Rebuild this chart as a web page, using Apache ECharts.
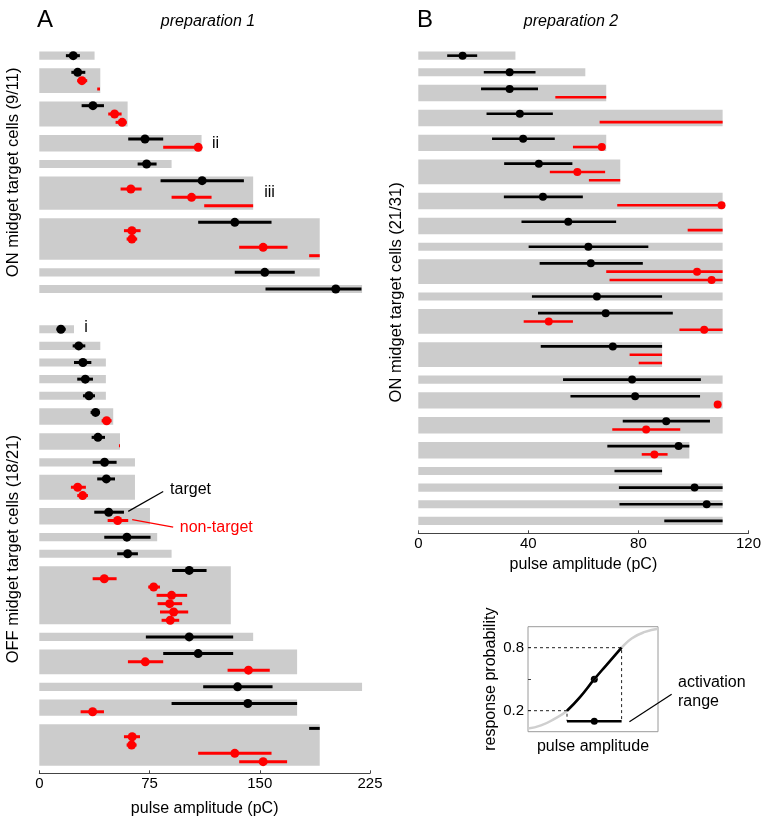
<!DOCTYPE html>
<html>
<head>
<meta charset="utf-8">
<script src="https://cdn.jsdelivr.net/npm/echarts@6/dist/echarts.min.js"></script>
<style>
  html, body { margin: 0; padding: 0; background: #fff; }
  #chart { width: 764px; height: 823px; }
</style>
</head>
<body>
<div id="chart"></div>
<script>
// rows are stimulus rows from the top; blocks = [firstRow, lastRow, tested max pC]
// ranges = [row, low, high, midpoint] (midpoint null when no dot)

// panel A, ON midget (9/11)
const onA_blocks = [[0,0,37.6],[2,4,41.5],[6,8,60.1],[10,11,110.4],[13,13,90.0],[15,18,145.5],[20,24,190.8],[26,26,190.8],[28,28,219.6]]
const onA_target = [[0,18.1,27.6,23.1],[2,21.8,31.3,26.1],[6,28.8,44.0,36.5],[10,60.5,84.3,71.9],[13,66.9,79.8,73.0],
  [15,82.5,139.2,110.8],[20,108.1,158.0,133.0],[26,133.0,173.8,153.4],[28,153.9,219.2,201.7]]
const onA_nontarget = [[3,25.8,32.6,29.0],[4,39.4,41.3,null],[7,46.9,56.0,51.2],[8,51.9,59.4,56.4],[11,84.3,108.1,108.1],
  [16,55.3,69.6,62.3],[17,90.0,117.2,103.6],[18,112.2,145.5,null],[21,57.6,68.9,63.0],[22,59.4,66.6,63.0],
  [23,136.0,168.9,152.3],[24,183.6,190.8,null]]

// panel A, OFF midget (18/21)
const offA_blocks = [[0,0,23.6],[2,2,41.5],[4,4,45.3],[6,6,45.3],[8,8,45.3],[10,11,50.3],[13,14,54.9],[16,16,65.1],
  [18,20,65.1],[22,23,75.3],[25,25,80.2],[27,27,90.0],[29,35,130.3],[37,37,145.5],[39,41,175.4],[43,43,219.6],
  [45,46,175.4],[48,52,190.8]]
const offA_target = [[0,11.8,17.9,14.7],[2,22.7,31.3,26.8],[4,23.6,35.4,29.7],[6,25.8,36.5,31.3],[8,29.7,37.9,33.8],
  [10,34.9,41.3,38.3],[13,35.6,44.7,39.9],[16,36.3,52.6,44.4],[18,39.4,51.5,45.6],[22,37.4,57.6,47.2],
  [25,44.2,75.7,59.6],[27,53.0,67.1,60.1],[29,90.4,113.8,102.0],[37,72.5,131.9,102.0],[39,84.3,131.9,108.1],
  [43,111.5,158.7,134.9],[45,90.0,175.4,141.9],[48,183.6,190.8,null]]
const offA_nontarget = [[11,42.4,49.2,45.8],[14,54.2,54.9,null],[19,21.5,31.7,26.1],[20,25.8,33.1,29.5],[23,46.5,60.5,53.3],
  [30,36.3,52.6,44.2],[31,74.1,82.1,77.8],[32,79.8,100.6,90.0],[33,80.5,97.2,88.7],[34,82.1,101.3,91.4],
  [35,83.2,95.2,89.1],[40,60.3,84.3,72.1],[41,128.1,156.8,142.3],[46,28.1,44.0,36.3],[49,57.6,68.5,63.2],
  [50,59.4,66.2,62.8],[51,108.1,158.0,133.0],[52,136.0,168.6,152.3]]

// panel B, ON midget (21/31)
const onB_blocks = [[0,0,35.3],[2,2,60.7],[4,5,68.3],[7,8,110.6],[10,11,68.3],[13,15,73.4],[17,18,110.6],[20,21,110.6],
  [23,23,110.6],[25,27,110.6],[29,29,110.6],[31,33,110.6],[35,37,88.6],[39,39,110.6],[41,42,110.6],[44,45,110.6],
  [47,48,98.5],[50,50,88.6],[52,52,110.6],[54,54,110.6],[56,56,110.6]]
const onB_target = [[0,10.5,21.4,16.1],[2,23.8,42.6,33.2],[4,22.8,43.5,33.2],[7,24.8,48.9,36.9],[10,26.8,49.6,38.1],
  [13,31.2,56.0,43.8],[17,31.1,59.8,45.3],[20,37.5,71.9,54.5],[23,40.1,83.6,61.8],[25,44.1,81.6,62.7],
  [29,41.3,88.6,64.9],[31,43.5,92.5,68.1],[35,44.5,88.6,70.7],[39,52.6,102.7,77.7],[41,55.3,102.4,78.8],
  [44,74.3,106.0,90.1],[47,68.7,98.5,94.6],[50,71.3,88.6,null],[52,72.9,110.6,100.4],[54,73.1,110.6,104.8],
  [56,89.4,110.6,null]]
const onB_nontarget = [[5,49.8,68.3,null],[8,65.9,110.6,null],[11,56.2,66.7,66.7],[14,47.8,67.9,57.8],[15,62.0,73.4,null],
  [18,72.3,110.2,110.2],[21,97.9,110.6,null],[26,68.3,110.6,101.3],[27,69.5,110.6,106.6],[32,38.3,56.2,47.4],
  [33,94.9,110.6,103.9],[36,76.8,88.6,null],[37,80.1,88.6,null],[42,108.8,108.8,108.8],[45,70.5,95.2,82.8],
  [48,81.2,90.6,85.8]]

const ticksA = [0, 75, 150, 225]
const ticksB = [0, 40, 80, 120]

// inset: response probability vs pulse amplitude (arbitrary units)
const insetCurve = [[0,0.03],[0.1,0.06],[0.2,0.12],[0.3,0.2],[0.4,0.33],[0.51,0.5],[0.6,0.63],[0.72,0.8],[0.8,0.89],[0.9,0.95],[1,0.98]]
const insetFit = [[0.3,0.2],[0.4,0.33],[0.51,0.5],[0.6,0.63],[0.72,0.8]]
const insetRange = [[0.3,0.1],[0.72,0.1]]
const insetMid = [[0.51,0.5],[0.51,0.1]]
const insetGuide80 = [[0,0.8],[0.72,0.8],[0.72,0.1]]
const insetGuide20 = [[0,0.2],[0.3,0.2],[0.3,0.1]]

// text notes [x, row, text, color]
const notesOnA = [[117.5,10.5,'ii','#000'],[153,16.4,'iii','#000']]
const notesOffA = [[30.6,-0.2,'i','#000'],[89,19.3,'target','#000'],[95.6,23.9,'non-target','#f00']]
const leadersOffA = [[60.5,21.9,84.3,19.5,'#000'],[63.2,22.9,91.1,23.8,'#f00']]
const notesInset = [[1.154,0.47,'activation','#000'],[1.154,0.29,'range','#000']]
const leadersInset = [[0.78,0.095,1.105,0.356,'#000']]

const GRAY = '#cccccc'
const RED = '#ff0000'
const FONT = "'Liberation Sans', Arial, Helvetica, sans-serif"

const chart = echarts.init(document.getElementById('chart'), null, { renderer: 'canvas' })

function blockSeries(data, gi) {
  return {
    type: 'custom', xAxisIndex: gi, yAxisIndex: gi, data: data, silent: true,
    renderItem: (params, api) => {
      const p0 = api.coord([0, api.value(0) - 0.49])
      const p1 = api.coord([api.value(2), api.value(1) + 0.49])
      return {
        type: 'rect',
        shape: { x: p0[0], y: Math.min(p0[1], p1[1]), width: p1[0] - p0[0], height: Math.abs(p1[1] - p0[1]) },
        style: { fill: GRAY }
      }
    }
  }
}

function rangeSeries(data, gi, color, width) {
  return {
    type: 'custom', xAxisIndex: gi, yAxisIndex: gi, data: data, silent: true,
    renderItem: (params, api) => {
      const a = api.coord([api.value(1), api.value(0)])
      const b = api.coord([api.value(2), api.value(0)])
      return { type: 'line', shape: { x1: a[0], y1: a[1], x2: b[0], y2: b[1] }, style: { stroke: color, lineWidth: width } }
    }
  }
}

function dotSeries(data, gi, color, size) {
  return {
    type: 'scatter', xAxisIndex: gi, yAxisIndex: gi, silent: true,
    symbol: 'circle', symbolSize: size, itemStyle: { color: color, opacity: 1 },
    data: data.filter(d => d[3] != null).map(d => [d[3], d[0]])
  }
}

function noteSeries(notes, gi, size) {
  return {
    type: 'custom', xAxisIndex: gi, yAxisIndex: gi, silent: true, clip: false,
    data: notes.map(n => [n[0], n[1]]),
    renderItem: (params, api) => {
      const n = notes[params.dataIndex]
      const p = api.coord([n[0], n[1]])
      return {
        type: 'text', x: p[0], y: p[1],
        style: { text: n[2], fill: n[3], font: size + 'px ' + FONT, align: 'left', verticalAlign: 'middle' }
      }
    }
  }
}

function leaderSeries(lines, gi) {
  return {
    type: 'custom', xAxisIndex: gi, yAxisIndex: gi, silent: true, clip: false,
    data: lines.map(l => [l[0], l[1], l[2], l[3]]),
    renderItem: (params, api) => {
      const a = api.coord([api.value(0), api.value(1)])
      const b = api.coord([api.value(2), api.value(3)])
      return { type: 'line', shape: { x1: a[0], y1: a[1], x2: b[0], y2: b[1] },
        style: { stroke: lines[params.dataIndex][4], lineWidth: 1.2 } }
    }
  }
}

function hiddenY(gi, max, name, gap) {
  return {
    gridIndex: gi, type: 'value', inverse: true, min: -0.5, max: max,
    axisLine: { show: false }, axisTick: { show: false }, axisLabel: { show: false }, splitLine: { show: false },
    name: name, nameLocation: 'middle', nameGap: gap,
    nameTextStyle: { fontSize: 16.5, color: '#000', fontFamily: FONT }
  }
}

function amplitudeX(gi, ticks, show, gap) {
  return {
    gridIndex: gi, type: 'value', position: 'bottom',
    min: ticks[0], max: ticks[ticks.length - 1], interval: ticks[1] - ticks[0],
    show: show,
    axisLine: { show: true, onZero: false, lineStyle: { color: '#444', width: 1 } },
    axisTick: { show: true, inside: true, length: 3, lineStyle: { color: '#444' } },
    axisLabel: { color: '#000', fontSize: 15, fontFamily: FONT, margin: 3 },
    splitLine: { show: false },
    name: 'pulse amplitude (pC)', nameLocation: 'middle', nameGap: gap,
    nameTextStyle: { fontSize: 16, color: '#000', fontFamily: FONT }
  }
}

const option = {
  animation: false,
  backgroundColor: '#fff',
  graphic: [
    { type: 'text', x: 45, y: 20, style: { text: 'A', font: '24px ' + FONT, fill: '#000', align: 'center', verticalAlign: 'middle' } },
    { type: 'text', x: 208, y: 22, style: { text: 'preparation 1', font: 'italic 16px ' + FONT, fill: '#000', align: 'center', verticalAlign: 'middle' } },
    { type: 'text', x: 425, y: 20, style: { text: 'B', font: '24px ' + FONT, fill: '#000', align: 'center', verticalAlign: 'middle' } },
    { type: 'text', x: 571, y: 22, style: { text: 'preparation 2', font: 'italic 16px ' + FONT, fill: '#000', align: 'center', verticalAlign: 'middle' } }
  ],
  grid: [
    { left: 39.3, top: 51.5, width: 330.7, height: 241.7 },
    { left: 39.3, top: 325.1, width: 330.7, height: 448.2 },
    { left: 418.3, top: 51.5, width: 331, height: 481.8 },
    { left: 528, top: 626.7, width: 130, height: 105, show: true, borderColor: '#9a9a9a', borderWidth: 1, backgroundColor: 'transparent' }
  ],
  xAxis: [
    amplitudeX(0, ticksA, false, 27),
    amplitudeX(1, ticksA, true, 27),
    amplitudeX(2, ticksB, true, 18),
    {
      gridIndex: 3, type: 'value', min: 0, max: 1,
      axisLine: { show: false, onZero: false }, axisTick: { show: false }, axisLabel: { show: false }, splitLine: { show: false },
      name: 'pulse amplitude', nameLocation: 'middle', nameGap: 7,
      nameTextStyle: { fontSize: 16, color: '#000', fontFamily: FONT }
    }
  ],
  yAxis: [
    hiddenY(0, 28.5, 'ON midget target cells (9/11)', 17),
    hiddenY(1, 53.4, 'OFF midget target cells (18/21)', 17),
    hiddenY(2, 57.5, 'ON midget target cells (21/31)', 13),
    {
      gridIndex: 3, type: 'value', min: 0, max: 1,
      axisLine: { show: false, onZero: false },
      axisTick: { show: true, inside: true, length: 3, customValues: [0.2, 0.5, 0.8], lineStyle: { color: '#444' } },
      axisLabel: { show: true, customValues: [0.2, 0.8], color: '#000', fontSize: 15, fontFamily: FONT, margin: 4 },
      splitLine: { show: false },
      name: 'response probability', nameLocation: 'middle', nameGap: 29,
      nameTextStyle: { fontSize: 16, color: '#000', fontFamily: FONT }
    }
  ],
  series: [
    blockSeries(onA_blocks, 0),
    rangeSeries(onA_target, 0, '#000', 3),
    rangeSeries(onA_nontarget, 0, RED, 3),
    dotSeries(onA_target, 0, '#000', 9),
    dotSeries(onA_nontarget, 0, RED, 9),
    noteSeries(notesOnA, 0, 16),

    blockSeries(offA_blocks, 1),
    rangeSeries(offA_target, 1, '#000', 3),
    rangeSeries(offA_nontarget, 1, RED, 3),
    dotSeries(offA_target, 1, '#000', 9),
    dotSeries(offA_nontarget, 1, RED, 9),
    leaderSeries(leadersOffA, 1),
    noteSeries(notesOffA, 1, 16),

    blockSeries(onB_blocks, 2),
    rangeSeries(onB_target, 2, '#000', 2.6),
    rangeSeries(onB_nontarget, 2, RED, 2.6),
    dotSeries(onB_target, 2, '#000', 8),
    dotSeries(onB_nontarget, 2, RED, 8),

    // inset
    { type: 'line', xAxisIndex: 3, yAxisIndex: 3, data: insetCurve, smooth: true, symbol: 'none', silent: true,
      lineStyle: { color: '#cfcfcf', width: 2.5 } },
    { type: 'line', xAxisIndex: 3, yAxisIndex: 3, data: insetGuide80, symbol: 'none', silent: true,
      lineStyle: { color: '#222', width: 1, type: [3, 3] } },
    { type: 'line', xAxisIndex: 3, yAxisIndex: 3, data: insetGuide20, symbol: 'none', silent: true,
      lineStyle: { color: '#222', width: 1, type: [3, 3] } },
    { type: 'line', xAxisIndex: 3, yAxisIndex: 3, data: insetFit, smooth: true, symbol: 'none', silent: true,
      lineStyle: { color: '#000', width: 2.6 } },
    { type: 'line', xAxisIndex: 3, yAxisIndex: 3, data: insetRange, symbol: 'none', silent: true,
      lineStyle: { color: '#000', width: 2.6 } },
    { type: 'scatter', xAxisIndex: 3, yAxisIndex: 3, data: insetMid, symbol: 'circle', symbolSize: 7, silent: true,
      itemStyle: { color: '#000', opacity: 1 } },
    leaderSeries(leadersInset, 3),
    noteSeries(notesInset, 3, 16)
  ]
}

chart.setOption(option)
</script>
</body>
</html>
